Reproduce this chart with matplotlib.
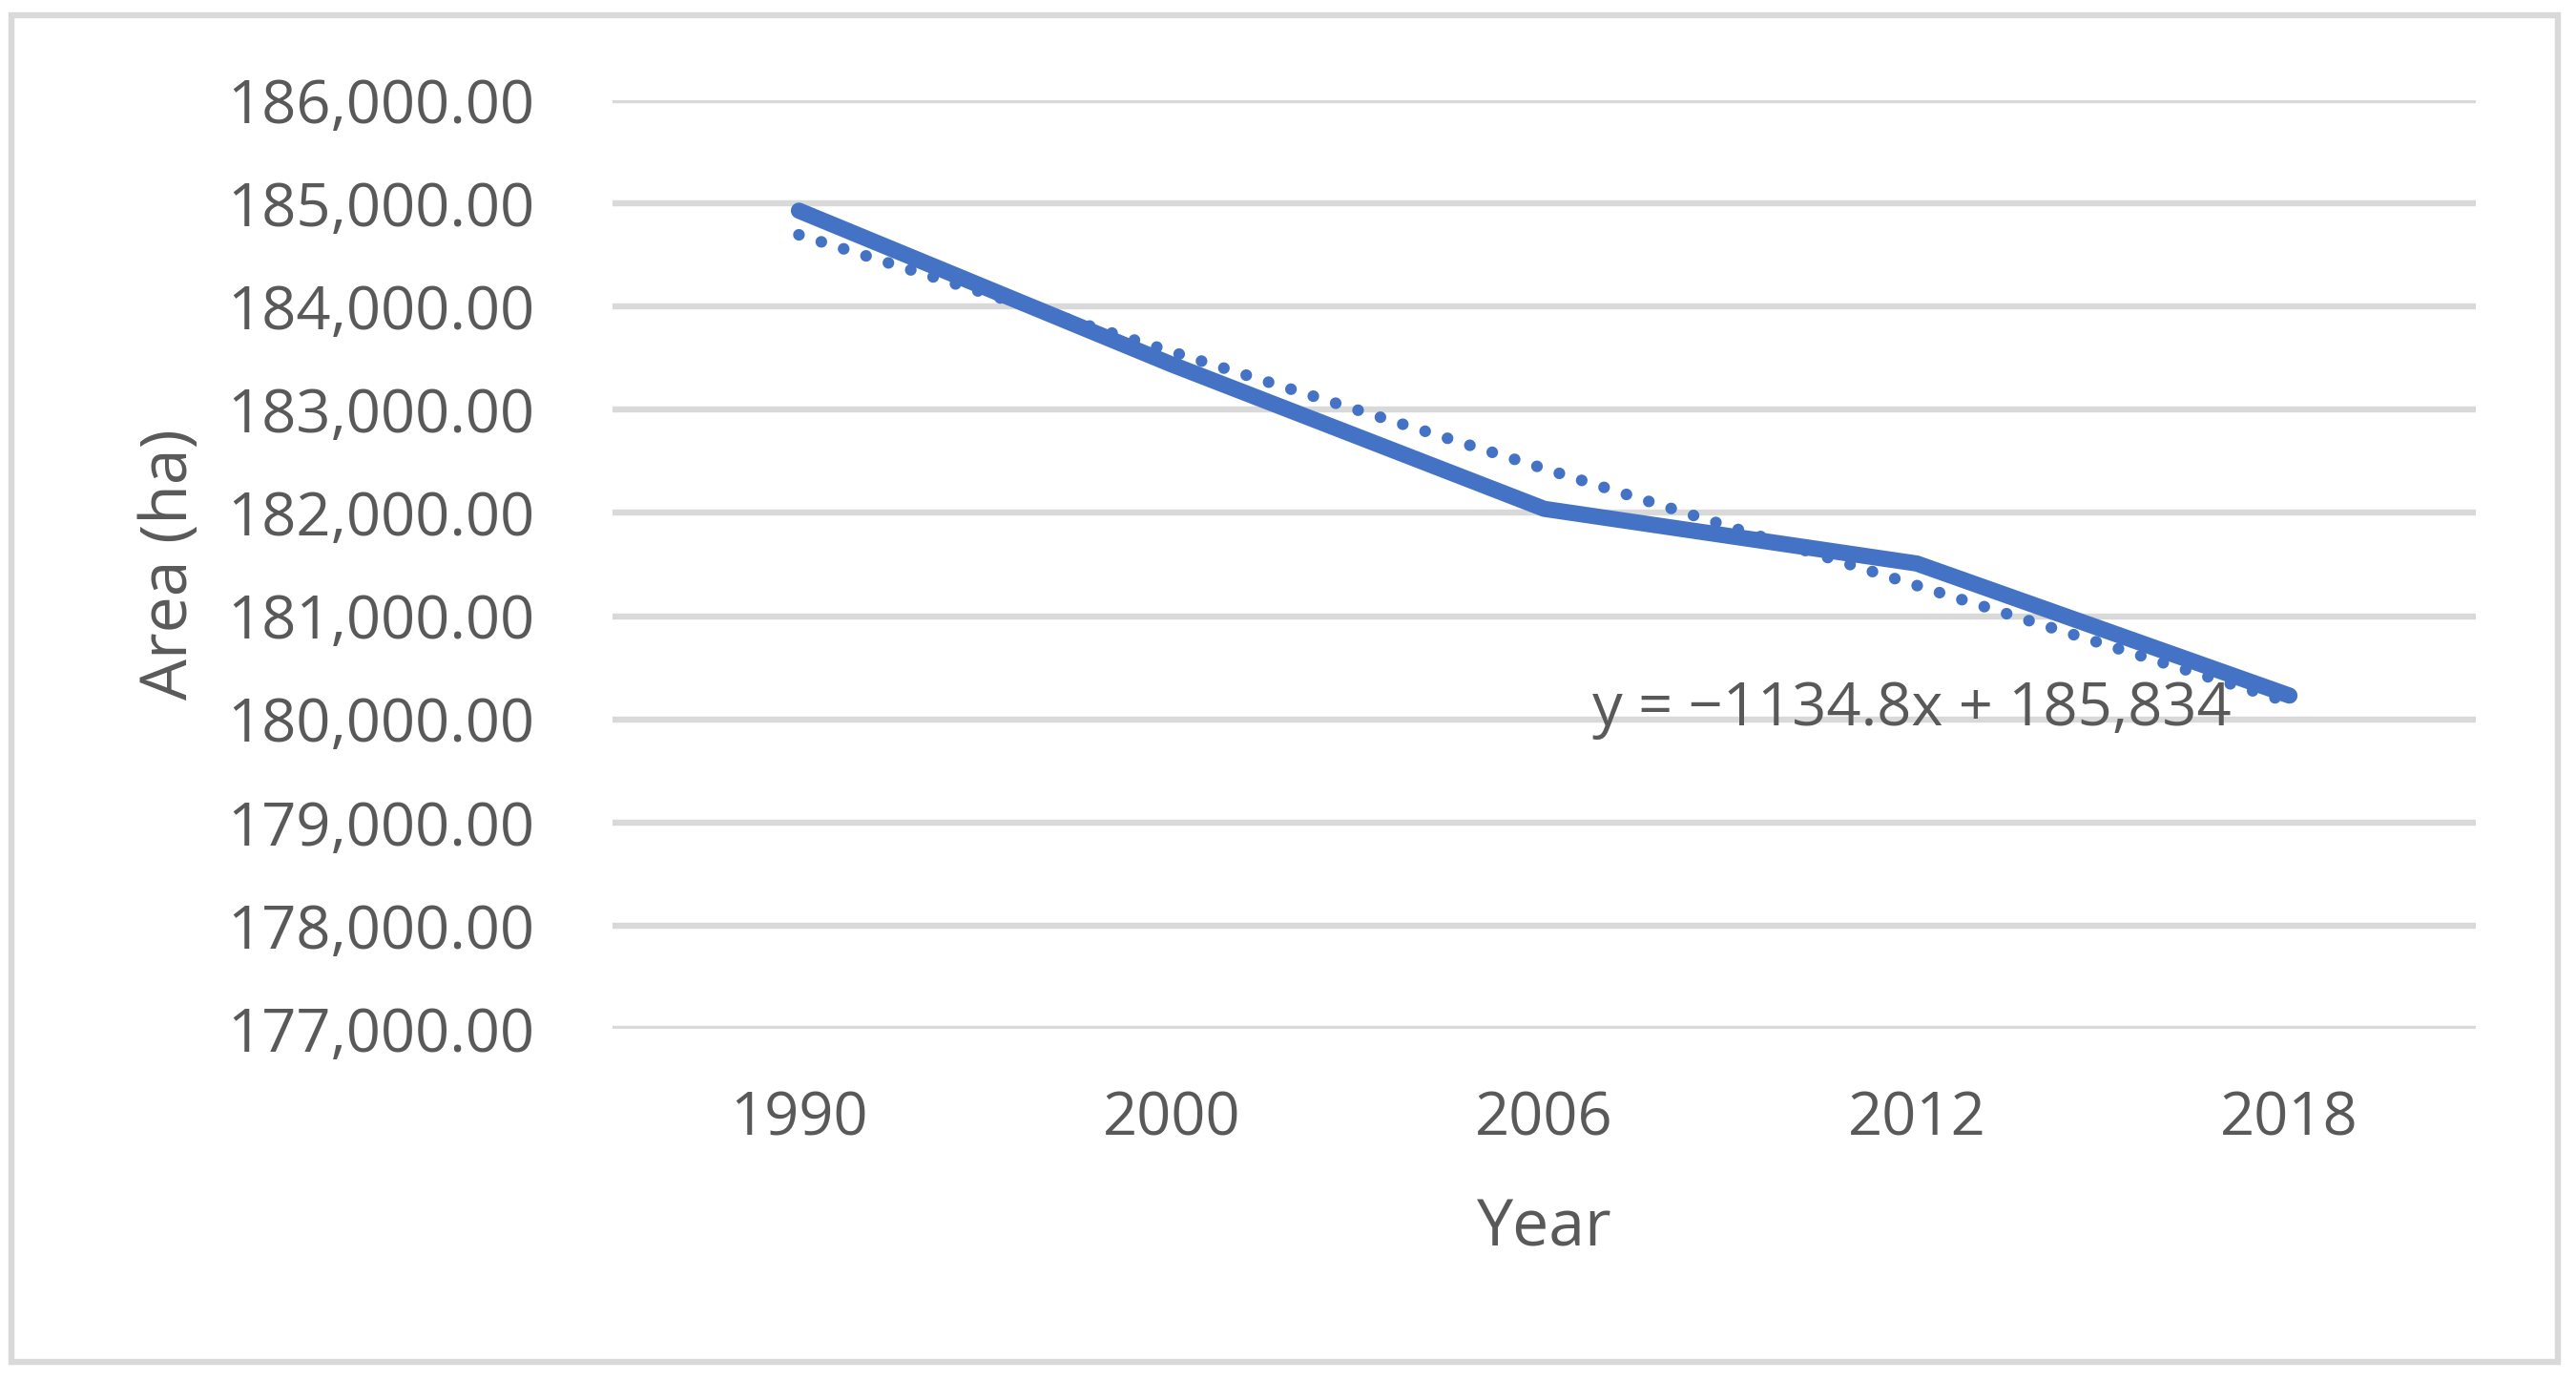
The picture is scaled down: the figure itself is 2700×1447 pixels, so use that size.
import matplotlib
matplotlib.use("Agg")
import matplotlib.pyplot as plt
import numpy as np
from matplotlib.patches import Rectangle

# ---- data ----
years = ["1990", "2000", "2006", "2012", "2018"]
area_ha = [184930, 183440, 182040, 181510, 180230]
y_ticks = [177000, 178000, 179000, 180000, 181000, 182000, 183000, 184000, 185000, 186000]
equation_label = "y = \u22121134.8x + 185,834"
x_title = "Year"
y_title = "Area (ha)"

plt.rcParams['font.family'] = ['Open Sans', 'DejaVu Sans']

BLUE = '#4472C4'
GRAY_TXT = '#595959'
GRID = '#D9D9D9'

fig = plt.figure(figsize=(27, 14.47), dpi=100)
ax = fig.add_axes([0.2378, 0.2550, 0.7233, 0.6724])

x = np.arange(len(years))
ax.plot(x, area_ha, color=BLUE, lw=12.2, solid_capstyle='round',
        solid_joinstyle='round', zorder=3)

# linear trendline (Excel style, x = 1..n)
k = np.arange(1, len(years) + 1)
slope, intercept = np.polyfit(k, area_ha, 1)
ax.plot(x, slope * k + intercept, color=BLUE, lw=8.8,
        linestyle=(0, (0.01, 2)), dash_capstyle='round', zorder=4)

ax.text(2.129, 179945, equation_label, fontsize=45.5, color=GRAY_TXT,
        ha='left', va='baseline', zorder=5)

ax.set_xlim(-0.5, len(years) - 0.5)
ax.set_ylim(y_ticks[0], y_ticks[-1])
ax.set_xticks(x)
ax.set_xticklabels(years)
ax.set_yticks(y_ticks)
ax.set_yticklabels([f"{v:,.2f}" for v in y_ticks])
ax.tick_params(axis='both', length=0, labelsize=45.5, labelcolor=GRAY_TXT)
ax.tick_params(axis='x', pad=46)
ax.tick_params(axis='y', pad=59)

ax.set_axisbelow(True)
ax.yaxis.grid(True, color=GRID, lw=4.6)
ax.xaxis.grid(False)
for s in ax.spines.values():
    s.set_visible(False)

ax.set_xlabel(x_title, fontsize=49, color=GRAY_TXT)
ax.set_ylabel(y_title, fontsize=49, color=GRAY_TXT)
ax.xaxis.set_label_coords(0.5, -0.216)
ax.yaxis.set_label_coords(-0.2376, 0.5)
ax.xaxis.label.set_va('center')
ax.yaxis.label.set_va('center')

fig.add_artist(Rectangle((12 / 2700, (1447 - 1427) / 1447),
                         (2681 - 12) / 2700, (1427 - 16) / 1447,
                         transform=fig.transFigure, fill=False,
                         edgecolor=GRID, lw=4.6))

fig.savefig('out.png', dpi=100, facecolor='white')
